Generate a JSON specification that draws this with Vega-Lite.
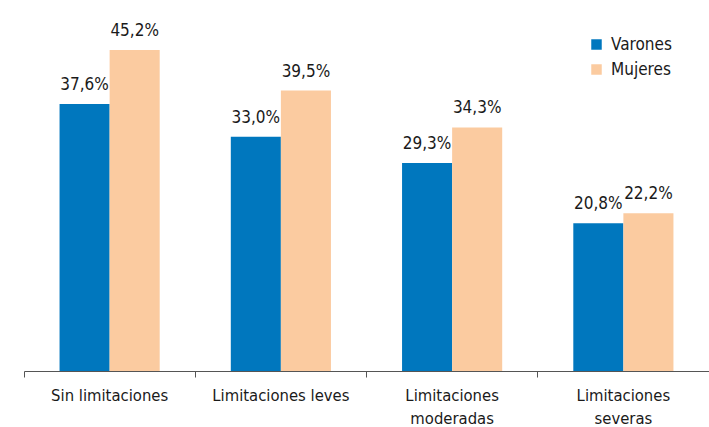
{
  "$schema": "https://vega.github.io/schema/vega-lite/v6.json",
  "width": 685,
  "height": 371,
  "autosize": "none",
  "padding": {"left": 24, "top": 0, "right": 0, "bottom": 56},
  "config": {
    "view": {"stroke": null},
    "font": "Liberation Sans Narrow, DejaVu Sans Condensed, sans-serif",
    "locale": {"number": {"decimal": ",", "thousands": ".", "grouping": [3], "currency": ["", " €"]}}
  },
  "data": {
    "values": [
      {"categoria": "Sin limitaciones", "sexo": "Varones", "valor": 0.376},
      {"categoria": "Sin limitaciones", "sexo": "Mujeres", "valor": 0.452},
      {"categoria": "Limitaciones leves", "sexo": "Varones", "valor": 0.330},
      {"categoria": "Limitaciones leves", "sexo": "Mujeres", "valor": 0.395},
      {"categoria": "Limitaciones moderadas", "sexo": "Varones", "valor": 0.293},
      {"categoria": "Limitaciones moderadas", "sexo": "Mujeres", "valor": 0.343},
      {"categoria": "Limitaciones severas", "sexo": "Varones", "valor": 0.208},
      {"categoria": "Limitaciones severas", "sexo": "Mujeres", "valor": 0.222}
    ]
  },
  "encoding": {
    "x": {
      "field": "categoria",
      "type": "nominal",
      "sort": null,
      "scale": {"paddingInner": 0, "paddingOuter": 0},
      "axis": {
        "title": null,
        "labelAngle": 0,
        "bandPosition": 0,
        "labelAlign": "center",
        "labelExpr": "length(datum.label) > 18 ? split(datum.label, ' ') : datum.label",
        "labelFontSize": 16.5,
        "labelColor": "#1a1a1a",
        "labelPadding": 10,
        "labelLineHeight": 23,
        "labelBaseline": "top",
        "tickSize": 6,
        "tickColor": "#555555",
        "domainColor": "#555555"
      }
    },
    "xOffset": {
      "field": "sexo",
      "type": "nominal",
      "sort": ["Varones", "Mujeres"],
      "scale": {"paddingInner": 0, "paddingOuter": 0.71}
    },
    "y": {
      "field": "valor",
      "type": "quantitative",
      "scale": {"domain": [0, 0.5225], "nice": false, "zero": true},
      "axis": null
    }
  },
  "layer": [
    {
      "mark": {"type": "bar"},
      "encoding": {
        "color": {
          "field": "sexo",
          "type": "nominal",
          "sort": ["Varones", "Mujeres"],
          "scale": {"domain": ["Varones", "Mujeres"], "range": ["#0077BE", "#FBCBA0"]},
          "legend": {
            "title": null,
            "orient": "none",
            "legendX": 564,
            "legendY": 36,
            "symbolType": "square",
            "symbolSize": 110,
            "symbolStrokeWidth": 0,
            "labelFontSize": 17,
            "labelColor": "#1a1a1a",
            "rowPadding": 7,
            "labelOffset": 6
          }
        }
      }
    },
    {
      "mark": {"type": "text", "baseline": "middle", "dy": -19, "fontSize": 17, "color": "#1a1a1a"},
      "encoding": {
        "text": {"field": "valor", "type": "quantitative", "format": ".1%"}
      }
    }
  ]
}
